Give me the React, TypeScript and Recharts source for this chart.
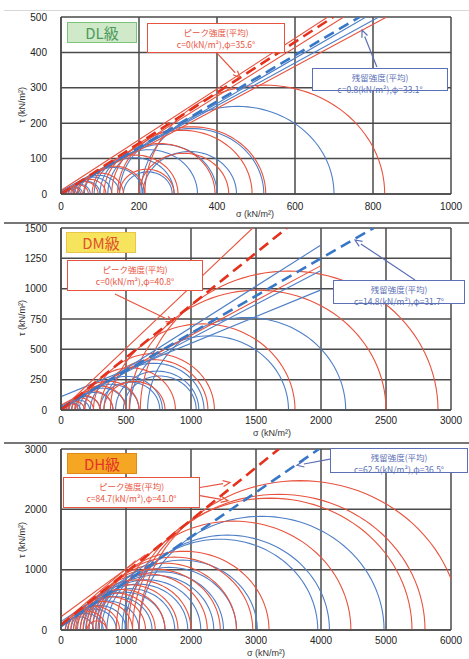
import React from 'react';
import { LineChart, Line, XAxis, YAxis, CartesianGrid, ReferenceLine } from 'recharts';

// Mohr circles as [sigma3, sigma1] (kN/m2)
const dlPeakCircles = [[215, 830], [145, 525], [130, 490], [200, 430], [110, 395], [80, 300], [150, 290], [58, 215], [42, 160], [32, 115], [25, 95], [18, 70], [12, 50], [8, 35]];
const dlResidualCircles = [[205, 700], [150, 520], [210, 450], [120, 400], [100, 350], [85, 290], [160, 285], [60, 210], [45, 150], [35, 130], [28, 100], [20, 75], [14, 55], [10, 40]];
const dmPeakCircles = [[610, 2900], [525, 2500], [380, 1800], [250, 1180], [300, 1130], [185, 880], [330, 800], [125, 600], [105, 500], [85, 400], [63, 300], [52, 250], [38, 180], [27, 130]];
const dmResidualCircles = [[666, 2190], [528, 1750], [330, 1100], [420, 1060], [480, 1040], [226, 780], [300, 760], [175, 600], [140, 500], [110, 400], [80, 300], [58, 220], [40, 150]];
const dhPeakCircles = [[1200, 6150], [1100, 5600], [1030, 5400], [850, 4460], [590, 3200], [535, 2950], [485, 2700], [430, 2450], [390, 2250], [340, 2000], [300, 1800], [255, 1600], [225, 1450], [195, 1300], [150, 1100], [110, 900], [70, 700], [400, 700]];
const dhResidualCircles = [[1200, 4970], [985, 4130], [940, 3950], [705, 3020], [625, 2700], [570, 2500], [535, 2350], [485, 2150], [430, 1950], [380, 1750], [345, 1600], [295, 1400], [240, 1200], [190, 1000], [155, 850], [100, 650], [65, 500]];

// individual failure envelopes as [tau at sigma=0, sigma end, tau end]
const dlPeakLines = [[10, 684, 500], [0, 725, 500], [5, 835, 500]];
const dlResidualLines = [[0, 782, 500], [8, 815, 500]];
const dmPeakLines = [[0, 1475, 1500], [40, 2000, 1190]];
const dmResidualLines = [[0, 2000, 1360], [110, 2000, 990], [30, 2000, 1150]];
const dhPeakLines = [[220, 1300, 1250], [100, 1150, 1150]];
const dhResidualLines = [[140, 1400, 1150], [60, 1200, 1000]];

// average envelopes [c, phi]
const dlPeakAvg = [0, 35.6];
const dlResidualAvg = [0.8, 33.1];
const dmPeakAvg = [0, 40.8];
const dmResidualAvg = [14.8, 31.7];
const dhPeakAvg = [84.7, 41.0];
const dhResidualAvg = [62.5, 36.5];

const dlXTicks = [0, 200, 400, 600, 800, 1000];
const dlYTicks = [0, 100, 200, 300, 400, 500];
const dmXTicks = [0, 500, 1000, 1500, 2000, 2500, 3000];
const dmYTicks = [0, 250, 500, 750, 1000, 1250, 1500];
const dhXTicks = [0, 1000, 2000, 3000, 4000, 5000, 6000];
const dhYTicks = [0, 1000, 2000, 3000];

const RED = '#e8533e';
const BLUE = '#4f7fc6';
const RED_D = '#e5301c';
const BLUE_D = '#3877c6';
const BOX_BLUE = '#5a6fb5';
const GRID = '#4a4a4a';

const arc = (s3: number, s1: number, n = 60) => {
  const p = (s1 + s3) / 2;
  const r = (s1 - s3) / 2;
  const pts = [];
  for (let k = 0; k <= n; k++) {
    const t = (Math.PI * k) / n;
    pts.push({ x: p + r * Math.cos(t), y: r * Math.sin(t) });
  }
  return pts;
};

const envelope = (c: number, phi: number, xMax: number, yMax: number) => {
  const t = Math.tan((phi * Math.PI) / 180);
  const xEnd = Math.min(xMax, (yMax - c) / t);
  return [{ x: 0, y: c }, { x: xEnd, y: c + xEnd * t }];
};

const Arrow = (props: any) => {
  const { x1, y1, x2, y2, stroke } = props;
  const a = Math.atan2(y2 - y1, x2 - x1);
  const L = 7;
  const w = 3;
  const bx = x2 - L * Math.cos(a);
  const by = y2 - L * Math.sin(a);
  const p1 = `${bx + w * Math.sin(a)},${by - w * Math.cos(a)}`;
  const p2 = `${bx - w * Math.sin(a)},${by + w * Math.cos(a)}`;
  return (
    <g>
      <line x1={x1} y1={y1} x2={bx} y2={by} stroke={stroke} strokeWidth={1.2} />
      <polyline points={`${p1} ${x2},${y2} ${p2}`} fill="none" stroke={stroke} strokeWidth={1.2} />
    </g>
  );
};

const tickStyle = { fontSize: 10, fill: '#222', fontFamily: 'Liberation Sans, Arial, sans-serif' };

interface PanelProps {
  top: number;
  height: number;
  marginTop: number;
  xAxisHeight: number;
  xTickMargin: number;
  xMax: number;
  yMax: number;
  xTicks: number[];
  yTicks: number[];
  peakCircles: number[][];
  residualCircles: number[][];
  peakLines: number[][];
  residualLines: number[][];
  peakAvg: number[];
  residualAvg: number[];
  arrows: { pts: number[]; color: string }[];
}

const Panel = (p: PanelProps) => (
  <div style={{ position: 'absolute', left: 0, top: p.top }}>
    <LineChart width={469} height={p.height} margin={{ top: p.marginTop, right: 18, bottom: 0, left: 0 }}>
      <CartesianGrid stroke={GRID} strokeWidth={1.5} />
      <XAxis
        type="number"
        dataKey="x"
        domain={[0, p.xMax]}
        ticks={p.xTicks}
        interval={0}
        allowDataOverflow
        height={p.xAxisHeight}
        tickLine={false}
        tickMargin={p.xTickMargin}
        axisLine={{ stroke: GRID, strokeWidth: 1.5 }}
        tick={tickStyle}
      />
      <YAxis
        type="number"
        dataKey="y"
        domain={[0, p.yMax]}
        ticks={p.yTicks}
        interval={0}
        allowDataOverflow
        width={61}
        tickLine={false}
        tickMargin={8}
        axisLine={{ stroke: GRID, strokeWidth: 1.5 }}
        tick={tickStyle}
      />
      {p.residualCircles.map((c, i) => (
        <Line key={`rc${i}`} data={arc(c[0], c[1])} dataKey="y" stroke={BLUE} strokeWidth={1.1} dot={false} isAnimationActive={false} />
      ))}
      {p.peakCircles.map((c, i) => (
        <Line key={`pc${i}`} data={arc(c[0], c[1])} dataKey="y" stroke={RED} strokeWidth={1.1} dot={false} isAnimationActive={false} />
      ))}
      {p.residualLines.map((l, i) => (
        <Line key={`rl${i}`} data={[{ x: 0, y: l[0] }, { x: l[1], y: l[2] }]} dataKey="y" stroke={BLUE} strokeWidth={1.1} dot={false} isAnimationActive={false} />
      ))}
      {p.peakLines.map((l, i) => (
        <Line key={`pl${i}`} data={[{ x: 0, y: l[0] }, { x: l[1], y: l[2] }]} dataKey="y" stroke={RED} strokeWidth={1.1} dot={false} isAnimationActive={false} />
      ))}
      <Line data={envelope(p.residualAvg[0], p.residualAvg[1], p.xMax, p.yMax)} dataKey="y" stroke={BLUE_D} strokeWidth={2.6} strokeDasharray="11 6" dot={false} isAnimationActive={false} />
      <Line data={envelope(p.peakAvg[0], p.peakAvg[1], p.xMax, p.yMax)} dataKey="y" stroke={RED_D} strokeWidth={2.6} strokeDasharray="11 6" dot={false} isAnimationActive={false} />
      {p.arrows.map((a, i) => (
        <ReferenceLine
          key={`ar${i}`}
          segment={[{ x: a.pts[0], y: a.pts[1] }, { x: a.pts[2], y: a.pts[3] }]}
          stroke={a.color}
          ifOverflow="visible"
          shape={Arrow}
        />
      ))}
    </LineChart>
  </div>
);

const box = (left: number, top: number, width: number, height: number, color: string, lines: string[]) => (
  <div
    style={{
      position: 'absolute',
      left,
      top,
      width,
      height,
      boxSizing: 'border-box',
      border: `1.5px solid ${color}`,
      background: '#fff',
      color,
      fontSize: 8.5,
      lineHeight: '12px',
      textAlign: 'center',
      paddingTop: 2,
      fontFamily: '"Noto Sans CJK JP", sans-serif',
      whiteSpace: 'nowrap',
    }}
  >
    {lines.map((t, i) => (
      <div key={i}>{t}</div>
    ))}
  </div>
);

const classBox = (left: number, top: number, label: string, fill: string, border: string, color: string) => (
  <div
    style={{
      position: 'absolute',
      left,
      top,
      width: 70,
      height: 21,
      boxSizing: 'border-box',
      background: fill,
      border: `1.5px solid ${border}`,
      color,
      fontSize: 15,
      lineHeight: '19px',
      textAlign: 'center',
      fontFamily: '"Noto Sans CJK JP", sans-serif',
    }}
  >
    {label}
  </div>
);

const yTitle = (top: number) => (
  <div
    style={{
      position: 'absolute',
      left: 22,
      top,
      transform: 'translate(-50%, -50%) rotate(-90deg)',
      fontSize: 9,
      color: '#333',
      fontFamily: 'Liberation Sans, Arial, sans-serif',
      whiteSpace: 'nowrap',
    }}
  >
    τ (kN/m²)
  </div>
);

const xTitle = (left: number, top: number) => (
  <div
    style={{
      position: 'absolute',
      left,
      top,
      transform: 'translate(-50%, -50%)',
      fontSize: 9,
      lineHeight: '10px',
      color: '#333',
      fontFamily: 'Liberation Sans, Arial, sans-serif',
      whiteSpace: 'nowrap',
    }}
  >
    σ (kN/m²)
  </div>
);

const rule = (top: number, color: string, h: number) => (
  <div style={{ position: 'absolute', left: 4, top, width: 465, height: h, background: color }} />
);

export default function App() {
  return (
    <div style={{ position: 'relative', width: 469, height: 659, background: '#fff', overflow: 'hidden' }}>
      <style>{'body{margin:0}'}</style>
      {rule(10, '#d8d8d8', 1)}
      <Panel
        top={0}
        height={222}
        marginTop={17}
        xAxisHeight={28}
        xTickMargin={3}
        xMax={1000}
        yMax={500}
        xTicks={dlXTicks}
        yTicks={dlYTicks}
        peakCircles={dlPeakCircles}
        residualCircles={dlResidualCircles}
        peakLines={dlPeakLines}
        residualLines={dlResidualLines}
        peakAvg={dlPeakAvg}
        residualAvg={dlResidualAvg}
        arrows={[
          { pts: [400, 398, 459, 328], color: RED },
          { pts: [810, 359, 772, 463], color: BOX_BLUE },
        ]}
      />
      {rule(222, '#777', 2)}
      <Panel
        top={222}
        height={222}
        marginTop={6}
        xAxisHeight={34}
        xTickMargin={1}
        xMax={3000}
        yMax={1500}
        xTicks={dmXTicks}
        yTicks={dmYTicks}
        peakCircles={dmPeakCircles}
        residualCircles={dmResidualCircles}
        peakLines={dmPeakLines}
        residualLines={dmResidualLines}
        peakAvg={dmPeakAvg}
        residualAvg={dmResidualAvg}
        arrows={[
          { pts: [415, 956, 862, 725], color: RED },
          { pts: [2723, 1072, 2262, 1401], color: BOX_BLUE },
        ]}
      />
      {rule(442, '#777', 2)}
      <Panel
        top={444}
        height={215}
        marginTop={5}
        xAxisHeight={29}
        xTickMargin={1}
        xMax={6000}
        yMax={3000}
        xTicks={dhXTicks}
        yTicks={dhYTicks}
        peakCircles={dhPeakCircles}
        residualCircles={dhResidualCircles}
        peakLines={dhPeakLines}
        residualLines={dhResidualLines}
        peakAvg={dhPeakAvg}
        residualAvg={dhResidualAvg}
        arrows={[
          { pts: [2138, 2362, 2600, 2446], color: RED },
          { pts: [2138, 2228, 2569, 2144], color: RED },
          { pts: [4138, 2831, 3631, 2730], color: BOX_BLUE },
        ]}
      />

      {yTitle(105)}
      {yTitle(318)}
      {yTitle(540)}
      {xTitle(255, 214)}
      {xTitle(272, 433)}
      {xTitle(266, 653)}

      {classBox(67, 22, 'DL級', '#cfe9c9', '#7cc47a', '#4d9a5a')}
      {box(147, 23, 138, 30, RED, ['ピーク強度(平均)', 'c=0(kN/m²),φ=35.6°'])}
      {box(312, 68, 136, 23, BOX_BLUE, ['残留強度(平均)', 'c=0.8(kN/m²),φ=33.1°'])}

      {classBox(66, 232, 'DM級', '#f6e45c', '#e8c64a', '#e0502e')}
      {box(67, 260, 136, 31, RED, ['ピーク強度(平均)', 'c=0(kN/m²),φ=40.8°'])}
      {box(333, 280, 132, 24, BOX_BLUE, ['残留強度(平均)', 'c=14.8(kN/m²),φ=31.7°'])}

      {classBox(67, 453, 'DH級', '#f5a623', '#e08a1a', '#e5332a')}
      {box(63, 477, 137, 31, RED, ['ピーク強度(平均)', 'c=84.7(kN/m²),φ=41.0°'])}
      {box(330, 448, 138, 25, BOX_BLUE, ['残留強度(平均)', 'c=62.5(kN/m²),φ=36.5°'])}
    </div>
  );
}
